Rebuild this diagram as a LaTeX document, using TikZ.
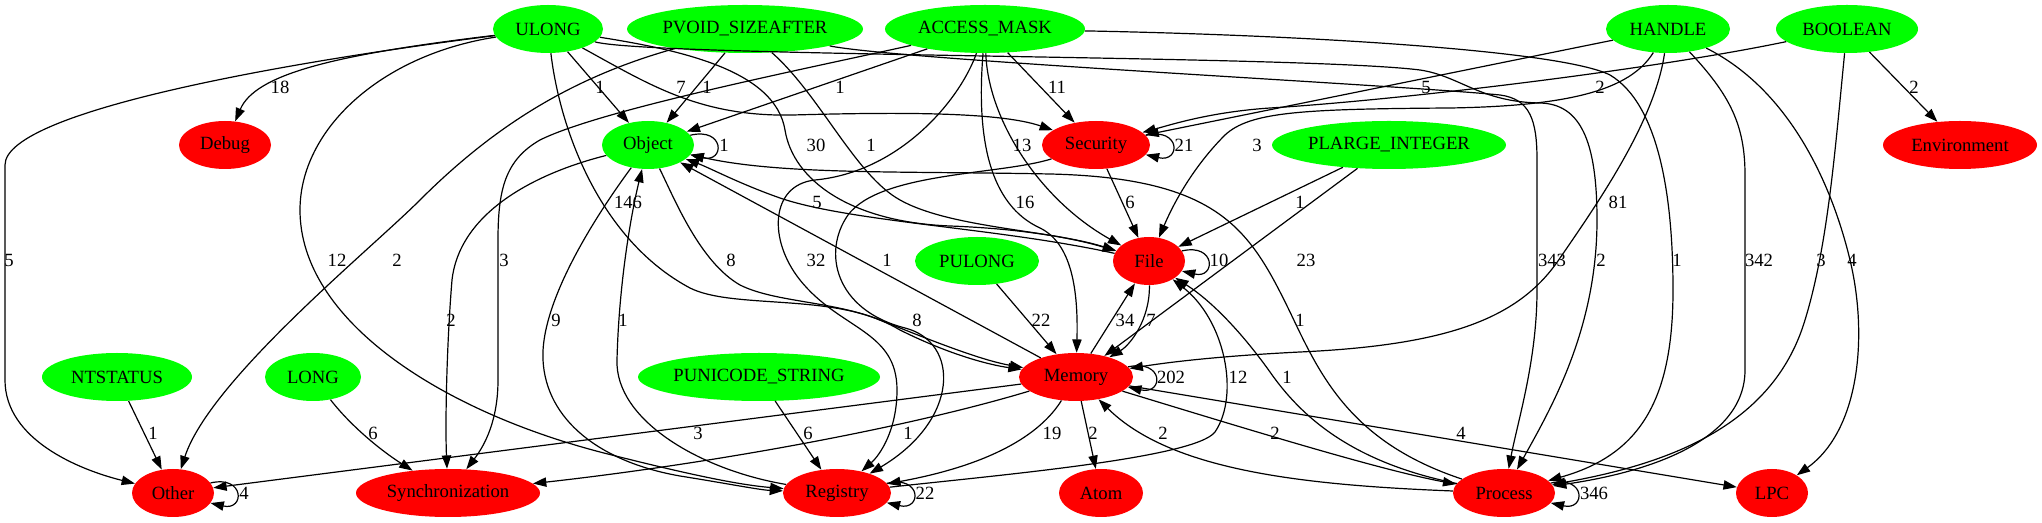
\documentclass[tikz,border=0pt]{standalone}
\usepackage{fontspec}
\setmainfont{Liberation Serif}
\usetikzlibrary{shapes.geometric,arrows.meta}
\definecolor{gcol}{RGB}{0,255,0}
\definecolor{rcol}{RGB}{255,0,0}
\newcommand{\gvfont}{\fontsize{14}{16}\selectfont}
\begin{document}
\begin{tikzpicture}[x=0.75pt,y=-0.75pt,
 nd/.style={ellipse,inner sep=0pt,minimum height=36pt,font=\gvfont},
 gn/.style={nd,fill=gcol},
 rn/.style={nd,fill=rcol},
 e/.style={draw=black,line width=0.9pt,-{Triangle[length=10pt,width=7pt]}},
 lbl/.style={font=\gvfont,inner sep=0pt}]
\useasboundingbox (0,0) rectangle (2042,523);
% ---------- nodes ----------
\node[gn,minimum width=82.5pt]  (ul) at (548,29)  {ULONG};
\node[gn,minimum width=177pt]   (pv) at (745,29)  {PVOID\_SIZEAFTER};
\node[gn,minimum width=150pt]   (am) at (985,29)  {ACCESS\_MASK};
\node[gn,minimum width=93pt]    (ha) at (1668,29) {HANDLE};
\node[gn,minimum width=106.5pt] (bo) at (1847,29) {BOOLEAN};
\node[rn,minimum width=69pt]    (de) at (225,145) {Debug};
\node[gn,minimum width=69pt]    (ob) at (648,145) {Object};
\node[rn,minimum width=81pt]    (se) at (1096,145) {Security};
\node[gn,minimum width=175.5pt] (pl) at (1389,145) {PLARGE\_INTEGER};
\node[rn,minimum width=115.5pt] (en) at (1960,145) {Environment};
\node[gn,minimum width=93pt]    (pu) at (977,261) {PULONG};
\node[rn,minimum width=54pt]    (fi) at (1149,261) {File};
\node[gn,minimum width=112.5pt] (nt) at (117,377) {NTSTATUS};
\node[gn,minimum width=72pt]    (lo) at (313,377) {LONG};
\node[gn,minimum width=181.5pt] (ps) at (759,377) {PUNICODE\_STRING};
\node[rn,minimum width=85.5pt]  (me) at (1076,377) {Memory};
\node[rn,minimum width=61.5pt]  (ot) at (173,493) {Other};
\node[rn,minimum width=138pt]   (sy) at (448,493) {Synchronization};
\node[rn,minimum width=81pt]    (re) at (837,493) {Registry};
\node[rn,minimum width=63pt]    (atom) at (1101,493) {Atom};
\node[rn,minimum width=76.5pt]  (pr) at (1504,493) {Process};
\node[rn,minimum width=54pt]    (lp) at (1772,493) {LPC};
% ---------- edges ----------
% ULONG
\draw[e] (ul) .. controls (330,55) and (255,75) .. (de);
\draw[e] (ul) .. controls (300,60) and (5,110) .. (5,165) -- (5,380) .. controls (5,440) and (80,470) .. (ot);
\draw[e] (ul) -- (ob);
\draw[e] (ul) .. controls (650,85) and (700,117) .. (793,115) .. controls (900,112) and (1000,112) .. (se);
\draw[e] (ul) .. controls (380,55) and (300,130) .. (300,210) .. controls (300,320) and (440,410) .. (600,452) .. controls (690,475) and (740,485) .. (re);
\draw[e] (ul) .. controls (560,130) and (600,240) .. (690,288) .. controls (730,308) and (820,295) .. (880,320) .. controls (930,340) and (980,360) .. (me);
\draw[e] (ul) .. controls (680,50) and (775,70) .. (785,130) .. controls (793,180) and (850,222) .. (950,226) .. controls (1030,229) and (1080,240) .. (fi);
\draw[e] (ul) .. controls (650,57) and (1300,55) .. (1420,70) .. controls (1460,76) and (1480,102) .. (1540,103) .. controls (1580,104) and (1597,140) .. (1597,220) .. controls (1597,330) and (1550,410) .. (pr);
% PVOID_SIZEAFTER
\draw[e] (pv) -- (ob);
\draw[e] (pv) .. controls (580,75) and (500,120) .. (420,200) .. controls (370,250) and (210,380) .. (ot);
\draw[e] (pv) .. controls (820,95) and (855,175) .. (900,200) .. controls (950,228) and (1050,230) .. (fi);
\draw[e] (pv) .. controls (900,60) and (1400,85) .. (1500,95) .. controls (1530,99) and (1537,120) .. (1537,160) -- (1537,290) .. controls (1537,360) and (1518,420) .. (pr);
% ACCESS_MASK
\draw[e] (am) -- (ob);
\draw[e] (am) -- (se);
\draw[e] (am) .. controls (988,120) and (1040,200) .. (fi);
\draw[e] (am) .. controls (976,140) and (990,205) .. (1040,228) .. controls (1075,245) and (1078,300) .. (me);
\draw[e] (am) .. controls (960,100) and (900,172) .. (815,180) .. controls (770,185) and (768,240) .. (800,280) .. controls (840,330) and (897,330) .. (897,390) .. controls (897,430) and (880,455) .. (re);
\draw[e] (am) .. controls (1300,35) and (1560,50) .. (1610,75) .. controls (1660,105) and (1673,200) .. (1673,290) .. controls (1673,400) and (1640,455) .. (pr);
\draw[e] (am) .. controls (800,70) and (600,110) .. (540,140) .. controls (505,160) and (498,190) .. (498,240) -- (498,380) .. controls (498,420) and (485,445) .. (sy);
% HANDLE
\draw[e] (ha) -- (se);
\draw[e] (ha) .. controls (1630,90) and (1570,106) .. (1450,108) .. controls (1300,109) and (1250,112) .. (1225,135) .. controls (1195,165) and (1175,200) .. (fi);
\draw[e] (ha) .. controls (1655,120) and (1600,200) .. (1560,258) .. controls (1520,318) and (1450,345) .. (1300,352) .. controls (1220,356) and (1170,362) .. (me);
\draw[e] (ha) .. controls (1730,95) and (1745,125) .. (1745,175) -- (1745,370) .. controls (1745,440) and (1650,472) .. (pr);
\draw[e] (ha) .. controls (1790,90) and (1832,185) .. (1850,260) .. controls (1868,335) and (1860,430) .. (lp);
% BOOLEAN
\draw[e] (bo) .. controls (1650,70) and (1400,100) .. (1270,108) .. controls (1210,112) and (1170,125) .. (se);
\draw[e] (bo) .. controls (1835,150) and (1828,245) .. (1805,320) .. controls (1775,420) and (1680,462) .. (pr);
\draw[e] (bo) -- (en);
% PLARGE_INTEGER, Security, PULONG
\draw[e] (pl) -- (fi);
\draw[e] (pl) -- (me);
\draw[e] (se) -- (fi);
\draw[e] (se) .. controls (1000,175) and (880,172) .. (848,215) .. controls (822,252) and (835,310) .. (905,328) .. controls (960,342) and (960,420) .. (re);
\draw[e] (pu) -- (me);
% Object
\draw[e] (ob) .. controls (540,172) and (460,210) .. (452,280) .. controls (447,340) and (445,420) .. (sy);
\draw[e] (ob) .. controls (600,210) and (540,300) .. (543,360) .. controls (546,420) and (600,462) .. (680,476) .. controls (730,484) and (760,490) .. (re);
\draw[e] (ob) .. controls (675,200) and (700,262) .. (740,285) .. controls (780,305) and (850,300) .. (900,330) .. controls (950,355) and (990,365) .. (me);
% back to Object
\draw[e] (re) .. controls (700,470) and (615,420) .. (617,360) .. controls (619,280) and (632,210) .. (ob);
\draw[e] (fi) .. controls (1000,228) and (850,222) .. (780,198) .. controls (740,184) and (710,168) .. (ob);
\draw[e] (me) -- (ob);
\draw[e] (pr) .. controls (1350,442) and (1320,375) .. (1290,312) .. controls (1250,230) and (1220,178) .. (1050,174) .. controls (900,171) and (780,175) .. (ob);
% into File
\draw[e] (pr) .. controls (1350,462) and (1300,415) .. (1270,372) .. controls (1240,330) and (1210,300) .. (fi);
\draw[e] (re) .. controls (1000,475) and (1195,458) .. (1215,432) .. controls (1240,395) and (1225,320) .. (fi);
\draw[e] (me) -- (fi);
\draw[e] (fi) .. controls (1150,320) and (1130,345) .. (me);
% Memory out
\draw[e] (me) -- (ot);
\draw[e] (me) .. controls (900,430) and (700,465) .. (sy);
\draw[e] (me) .. controls (1040,435) and (990,465) .. (re);
\draw[e] (me) -- (atom);
\draw[e] (pr) .. controls (1300,485) and (1170,470) .. (me);
\draw[e] (me) .. controls (1250,430) and (1380,470) .. (pr);
\draw[e] (me) -- (lp);
% bottom row sources
\draw[e] (nt) -- (ot);
\draw[e] (lo) .. controls (350,425) and (380,450) .. (sy);
\draw[e] (ps) -- (re);
% self loops
\draw[e] (ob.13) .. controls (725,127) and (725,163) .. (ob.-13);
\draw[e] (se.11) .. controls (1181,127) and (1181,163) .. (se.-11);
\draw[e] (fi.17) .. controls (1216,243) and (1216,279) .. (fi.-17);
\draw[e] (me.11) .. controls (1164,359) and (1164,395) .. (me.-11);
\draw[e] (ot.15) .. controls (245,475) and (245,511) .. (ot.-15);
\draw[e] (re.11) .. controls (922,475) and (922,511) .. (re.-11);
\draw[e] (pr.12) .. controls (1586,475) and (1586,511) .. (pr.-12);
% ---------- labels ----------
\node[lbl] (l01) at (280,87) {18};
\node[lbl] (l02) at (600,87) {1};
\node[lbl] (l03) at (681,87) {7};
\node[lbl] (l04) at (707,87) {1};
\node[lbl] (l05) at (840,87) {1};
\node[lbl] (l06) at (1057,87) {11};
\node[lbl] (l07) at (1426,87) {5};
\node[lbl] (l08) at (1600,87) {2};
\node[lbl] (l09) at (1914,87) {2};
\node[lbl] (l10) at (724,145) {1};
\node[lbl] (l11) at (816,145) {30};
\node[lbl] (l12) at (871,145) {1};
\node[lbl] (l13) at (1022,145) {13};
\node[lbl] (l14) at (1184,145) {21};
\node[lbl] (l15) at (1257,145) {3};
\node[lbl] (l16) at (628,202) {146};
\node[lbl] (l17) at (817,202) {5};
\node[lbl] (l18) at (1025,202) {16};
\node[lbl] (l19) at (1130,202) {6};
\node[lbl] (l20) at (1300,202) {1};
\node[lbl] (l21) at (1618,202) {81};
\node[lbl] (l22) at (9,260) {5};
\node[lbl] (l23) at (337,260) {12};
\node[lbl] (l24) at (397,260) {2};
\node[lbl] (l25) at (504,260) {3};
\node[lbl] (l26) at (731,260) {8};
\node[lbl] (l27) at (816,260) {32};
\node[lbl] (l28) at (887,260) {1};
\node[lbl] (l29) at (1219,260) {10};
\node[lbl] (l30) at (1306,260) {23};
\node[lbl] (l31) at (1552,260) {343};
\node[lbl] (l32) at (1601,260) {2};
\node[lbl] (l33) at (1677,260) {1};
\node[lbl] (l34) at (1759,260) {342};
\node[lbl] (l35) at (1821,260) {3};
\node[lbl] (l36) at (1852,260) {4};
\node[lbl] (l37) at (451,320) {2};
\node[lbl] (l38) at (556,320) {9};
\node[lbl] (l39) at (623,320) {1};
\node[lbl] (l40) at (917,320) {8};
\node[lbl] (l41) at (1041,320) {22};
\node[lbl] (l42) at (1125,320) {34};
\node[lbl] (l43) at (1151,320) {7};
\node[lbl] (l44) at (1300,320) {1};
\node[lbl] (l45) at (1171,377) {202};
\node[lbl] (l46) at (1238,377) {12};
\node[lbl] (l47) at (1287,377) {1};
\node[lbl] (l48) at (153,433) {1};
\node[lbl] (l49) at (373,433) {6};
\node[lbl] (l50) at (698,433) {3};
\node[lbl] (l51) at (808,433) {6};
\node[lbl] (l52) at (908,433) {1};
\node[lbl] (l53) at (1052,433) {19};
\node[lbl] (l54) at (1093,433) {2};
\node[lbl] (l55) at (1163,433) {2};
\node[lbl] (l56) at (1275,433) {2};
\node[lbl] (l57) at (1461,433) {4};
\node[lbl] (l58) at (244,493) {4};
\node[lbl] (l59) at (925,493) {22};
\node[lbl] (l60) at (1594,493) {346};
\end{tikzpicture}
\end{document}
